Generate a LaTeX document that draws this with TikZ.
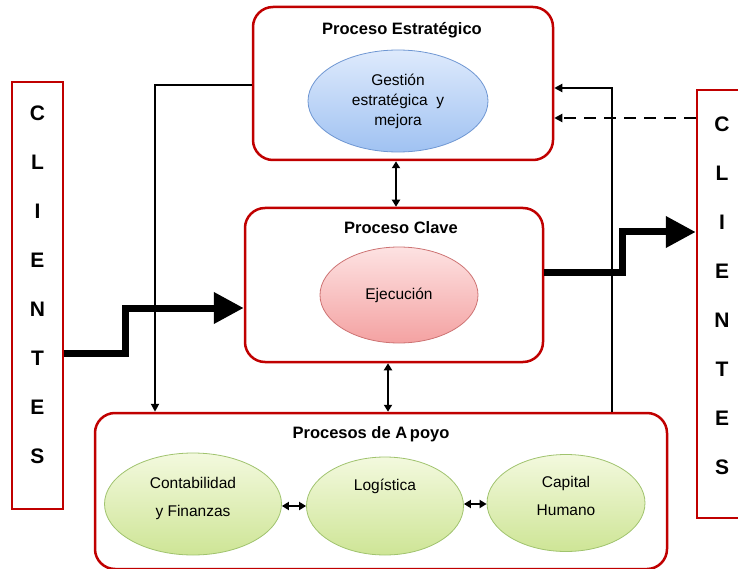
\documentclass[tikz,border=0pt]{standalone}
\usepackage{fontspec}
\setmainfont{Liberation Sans}
\usetikzlibrary{arrows.meta,shapes.geometric,positioning}
\definecolor{boxred}{RGB}{192,0,0}
\definecolor{bluetop}{RGB}{222,234,252}
\definecolor{bluebot}{RGB}{160,194,242}
\definecolor{blueline}{RGB}{110,150,210}
\definecolor{pinktop}{RGB}{253,226,226}
\definecolor{pinkbot}{RGB}{244,162,162}
\definecolor{pinkline}{RGB}{205,115,115}
\definecolor{greentop}{RGB}{243,249,222}
\definecolor{greenbot}{RGB}{206,229,150}
\definecolor{greenline}{RGB}{160,195,110}

\begin{document}
\begin{tikzpicture}[x=1pt,y=-1pt,
  procbox/.style={draw=boxred,line width=2.5pt,rounded corners=20pt,inner sep=0pt},
  clibox/.style={draw=boxred,line width=2.5pt,inner sep=0pt},
  clitext/.style={align=center,font=\bfseries\fontsize{21}{49}\selectfont},
  boxtitle/.style={font=\bfseries\fontsize{16.5}{20}\selectfont},
  proc/.style={ellipse,inner sep=0pt,align=center,line width=0.8pt},
  blueproc/.style={proc,draw=blueline,top color=bluetop,bottom color=bluebot,
    font=\fontsize{15.5}{20}\selectfont},
  pinkproc/.style={proc,draw=pinkline,top color=pinktop,bottom color=pinkbot,
    font=\fontsize{15.5}{20}\selectfont},
  greenproc/.style={proc,draw=greenline,top color=greentop,bottom color=greenbot,
    font=\fontsize{15.5}{28}\selectfont,text depth=14pt},
  flow/.style={line width=7pt,-{Triangle[length=30pt,width=30pt]}},
  link/.style={line width=2pt,-{Triangle[length=8pt,width=8pt]}},
  both/.style={line width=2pt,{Triangle[length=7pt,width=8pt]}-{Triangle[length=7pt,width=8pt]}}]
\useasboundingbox (0,0) rectangle (738,569);

% clientes
\node[clibox,minimum width=51,minimum height=427] (cliin) at (37.5,295.5) {};
\node[clitext] (cliintxt) at (37.5,285) {C\\L\\I\\E\\N\\T\\E\\S};
\node[clibox,minimum width=50,minimum height=428] (cliout) at (722,304) {};
\node[clitext] (clioutxt) at (722,296) {C\\L\\I\\E\\N\\T\\E\\S};

% procesos
\node[procbox,minimum width=300,minimum height=153] (estr) at (403,83.5) {};
\node[boxtitle] (estrt) at (402,30) {Proceso Estratégico};
\node[blueproc,minimum width=180,minimum height=102] (gest) at (398,101)
  {Gestión\\estratégica\ \ y\\mejora};

\node[procbox,minimum width=298,minimum height=154] (clave) at (394,285) {};
\node[boxtitle] (clavet) at (401,228) {Proceso Clave};
\node[pinkproc,minimum width=158,minimum height=96] (ejec) at (399,295) {Ejecución};

\node[procbox,minimum width=572,minimum height=156] (apoyo) at (381,491) {};
\node[boxtitle] (apoyot) at (371,434) {Procesos de A\,poyo};
\node[greenproc,minimum width=177,minimum height=102] (conta) at (193,504)
  {Contabilidad\\y Finanzas};
\node[greenproc,minimum width=157,minimum height=98] (logi) at (385,506)
  {Logística\\ \mbox{}};
\node[greenproc,minimum width=158,minimum height=97] (capi) at (566,503)
  {Capital\\Humano};

% flujos
\draw[flow] (cliin.east |- 0,353) -| (125,308) -- (clave.west |- 0,308);
\draw[flow] (clave.east |- 0,272) -| (622,232) -- (cliout.west |- 0,232);

\draw[link] (estr.west |- 0,85) -| (apoyo.north -| 155,0);
\draw[link] (apoyo.north -| 612,0) |- (estr.east |- 0,88);
\draw[link,dashed,dash pattern=on 12pt off 8pt] (cliout.west |- 0,118) -- (estr.east |- 0,118);
\draw[both] (estr.south -| 396,0) -- (clave.north -| 396,0);
\draw[both] (clave.south -| 388,0) -- (apoyo.north -| 388,0);
\draw[both] (conta.east |- 0,506) -- (logi.west |- 0,506);
\draw[both] (logi.east |- 0,504) -- (capi.west |- 0,504);
\end{tikzpicture}
\end{document}
